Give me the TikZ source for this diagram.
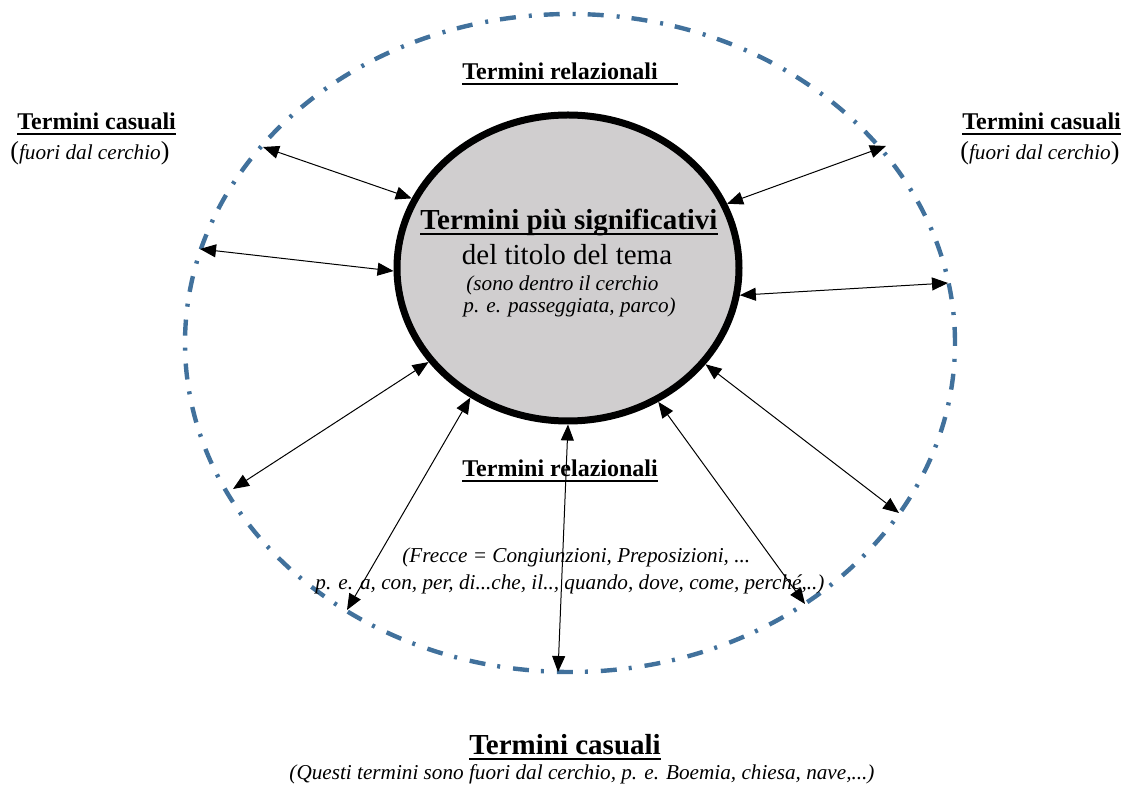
\documentclass[tikz,border=0pt]{standalone}
\usepackage{fontspec}
\setmainfont{Liberation Serif}
\usetikzlibrary{shapes.geometric,arrows.meta}

\definecolor{ringblue}{RGB}{65,113,156}
\definecolor{coregray}{RGB}{208,206,207}
\newcommand{\heavyul}[1]{\setbox0\hbox{#1}\rlap{\rule[-2.5pt]{\wd0}{1pt}}\box0}
\newcommand{\bigparen}[1]{{\fontsize{13}{15}\selectfont#1}}

\begin{document}
\begin{tikzpicture}[x=0.5pt,y=-0.5pt,
	every node/.style={inner sep=0pt,font=\fontsize{12}{14}\selectfont},
	core/.style={ellipse,draw=black,line width=3.5pt,fill=coregray,minimum width=171pt,minimum height=153pt},
	ring/.style={ellipse,draw=ringblue,line width=2.2pt,dash pattern=on 8pt off 6pt on 1.5pt off 6.5pt,minimum width=385pt,minimum height=329pt},
	link/.style={<->,>={Triangle[length=8pt,width=6.5pt]},line width=0.5pt},
	note/.style={font=\fontsize{10.6}{13}\selectfont\itshape},
	big/.style={font=\fontsize{14.5}{17}\selectfont}]
	\useasboundingbox (0,0) rectangle (1126,785);
	\node[ring] (ring) at (570,343) {};
	\node[core] (core) at (568,268) {};

	% inside the circle
	\node[big,anchor=base] (title) at (569,230) {\heavyul{\textbf{Termini più significativi}}};
	\node[big,anchor=base] (subtitle) at (567,265) {del titolo del tema};
	\node[note,anchor=base west] (inside1) at (466,291) {(sono dentro il cerchio};
	\node[note,anchor=base west] (inside2) at (463,313) {p. e. passeggiata, parco)};

	% around the circle
	\node[anchor=base west] (toprel) at (462,80) {\heavyul{\textbf{Termini relazionali}\hspace{10pt}}};
	\node[anchor=base west] (leftcas) at (17,130) {\heavyul{\textbf{Termini casuali}}};
	\node[anchor=base west] (leftsub) at (10,160) {\bigparen{(}\textit{\fontsize{10.6}{13}\selectfont fuori dal cerchio}\bigparen{)}};
	\node[anchor=base west] (rightcas) at (962,130) {\heavyul{\textbf{Termini casuali}}};
	\node[anchor=base west] (rightsub) at (960,160) {\bigparen{(}\textit{\fontsize{10.6}{13}\selectfont fuori dal cerchio}\bigparen{)}};
	\node[anchor=base west] (botrel) at (462,477) {\heavyul{\textbf{Termini relazionali}}};
	\node[note,anchor=base west] (frecce1) at (402,563) {(Frecce = Congiunzioni, Preposizioni, ...};
	\node[note,anchor=base west] (frecce2) at (315,590) {p. e. a, con, per, di...che, il.., quando, dove, come, perché,..)};
	\node[big,anchor=base] (botcas) at (565,755) {\heavyul{\textbf{Termini casuali}}};
	\node[note,anchor=base] (botsub) at (582,780) {(Questi termini sono fuori dal cerchio, p. e. Boemia, chiesa, nave,...)};

	% free ends of the arrows
	\coordinate (o1) at (263,147);
	\coordinate (o2) at (200,249);
	\coordinate (o3) at (233,489);
	\coordinate (o4) at (347,610);
	\coordinate (o5) at (558,672);
	\coordinate (o6) at (805,604);
	\coordinate (o7) at (899,513);
	\coordinate (o8) at (948,283);
	\coordinate (o9) at (886,146);

	\path[link]
	(o1) edge (core.156)
	(o2) edge (core.181)
	(o3) edge (core.214)
	(o4) edge (core.233)
	(o5) edge (core.270)
	(o6) edge (core.304)
	(o7) edge (core.325)
	(o8) edge (core.351)
	(o9) edge (core.22);
\end{tikzpicture}
\end{document}
